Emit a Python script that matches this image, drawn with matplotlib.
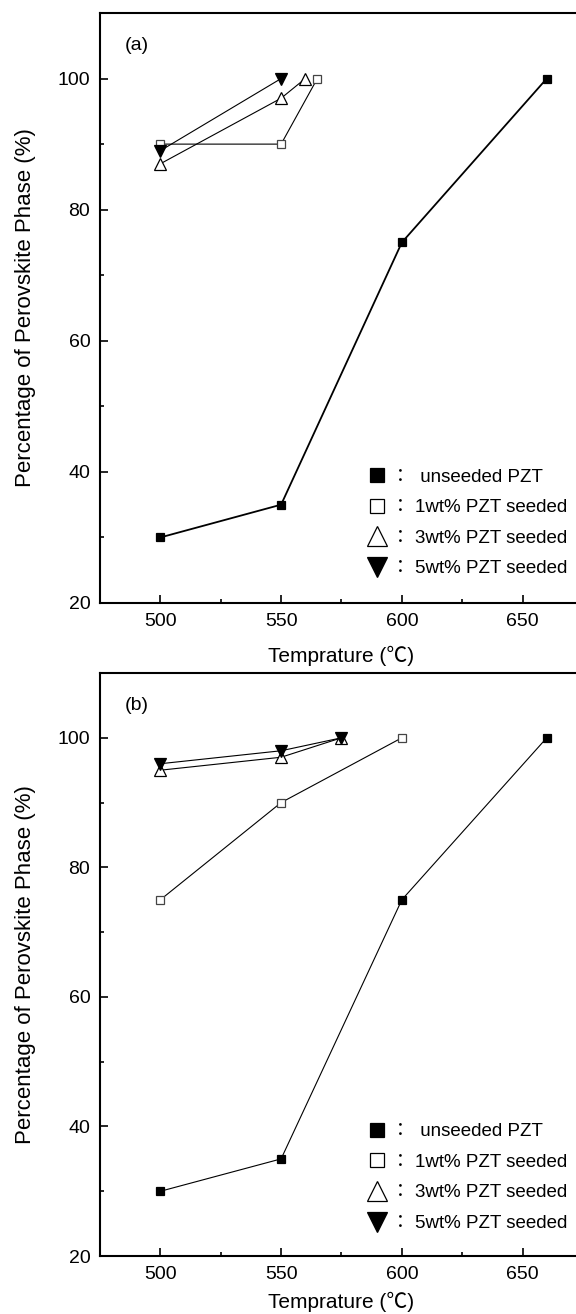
import matplotlib
matplotlib.use("Agg")
import matplotlib.pyplot as plt
from matplotlib.lines import Line2D
from matplotlib.ticker import MultipleLocator

plt.rcParams['font.family'] = ['Liberation Sans', 'Noto Sans CJK JP', 'DejaVu Sans']

# Panel (a) data
a_unseeded_x = [500, 550, 600, 660]
a_unseeded_y = [30, 35, 75, 100]
a_1wt_x = [500, 550, 565]
a_1wt_y = [90, 90, 100]
a_3wt_x = [500, 550, 560]
a_3wt_y = [87, 97, 100]
a_5wt_x = [500, 550]
a_5wt_y = [89, 100]

# Panel (b) data
b_unseeded_x = [500, 550, 600, 660]
b_unseeded_y = [30, 35, 75, 100]
b_1wt_x = [500, 550, 600]
b_1wt_y = [75, 90, 100]
b_3wt_x = [500, 550, 575]
b_3wt_y = [95, 97, 100]
b_5wt_x = [500, 550, 575]
b_5wt_y = [96, 98, 100]

labels = ["：  unseeded PZT", "： 1wt% PZT seeded", "： 3wt% PZT seeded", "： 5wt% PZT seeded"]
x_ticks = [500, 550, 600, 650]
y_ticks = [20, 40, 60, 80, 100]

TICK_FS = 14
LEG_FS = 13.5

styles = [
    dict(marker="s", mfc="black", mec="black", ms=5.5),
    dict(marker="s", mfc="white", mec="#444444", ms=6),
    dict(marker="^", mfc="white", mec="black", ms=8),
    dict(marker="v", mfc="black", mec="black", ms=8),
]


def draw_panel(ax, series, tag, unseeded_lw, xlabel_y):
    for (xs, ys), st, lw in zip(series, styles, [unseeded_lw, 0.8, 0.8, 0.8]):
        ax.plot(xs, ys, color="black", lw=lw, mew=0.9, zorder=3, **st)

    ax.set_xlim(475, 675)
    ax.set_ylim(20, 110)
    ax.set_xticks(x_ticks)
    ax.set_yticks(y_ticks)
    ax.xaxis.set_minor_locator(MultipleLocator(25))
    ax.yaxis.set_minor_locator(MultipleLocator(10))
    ax.tick_params(which="both", direction="in", labelsize=TICK_FS, width=1.2)
    ax.tick_params(which="major", length=6, pad=7)
    ax.tick_params(which="minor", length=3)
    for s in ax.spines.values():
        s.set_linewidth(1.5)
    ax.spines["right"].set_visible(False)

    ax.text(0.052, 0.945, tag, transform=ax.transAxes, fontsize=14, va="center", ha="left")

    ax.set_ylabel("Percentage of Perovskite Phase (%)", fontsize=16)
    ax.yaxis.set_label_coords(-0.133, 0.5)
    ax.set_xlabel("Temprature (℃)", fontsize=15)
    ax.xaxis.set_label_coords(0.5, xlabel_y)

    handles = [Line2D([], [], linestyle="none", color="black",
                      marker=st["marker"], mfc=st["mfc"], mec="black",
                      ms=st["ms"] * 1.75, mew=0.9) for st in styles]
    ax.legend(handles, labels, loc="upper left", bbox_to_anchor=(0.555, 0.228),
              frameon=False, fontsize=LEG_FS, handlelength=1.0, handletextpad=0.2,
              borderpad=0, borderaxespad=0, labelspacing=0.72)


fig = plt.figure(figsize=(5.76, 13.14), dpi=100)
ax_a = fig.add_axes([0.1736, 0.5411, 0.8385, 0.449])
ax_b = fig.add_axes([0.1736, 0.0441, 0.8385, 0.4437])

draw_panel(ax_a, [(a_unseeded_x, a_unseeded_y), (a_1wt_x, a_1wt_y),
                  (a_3wt_x, a_3wt_y), (a_5wt_x, a_5wt_y)], "(a)", 1.3, -0.072)
draw_panel(ax_b, [(b_unseeded_x, b_unseeded_y), (b_1wt_x, b_1wt_y),
                  (b_3wt_x, b_3wt_y), (b_5wt_x, b_5wt_y)], "(b)", 0.8, -0.062)

fig.savefig("out.png", dpi=100)
